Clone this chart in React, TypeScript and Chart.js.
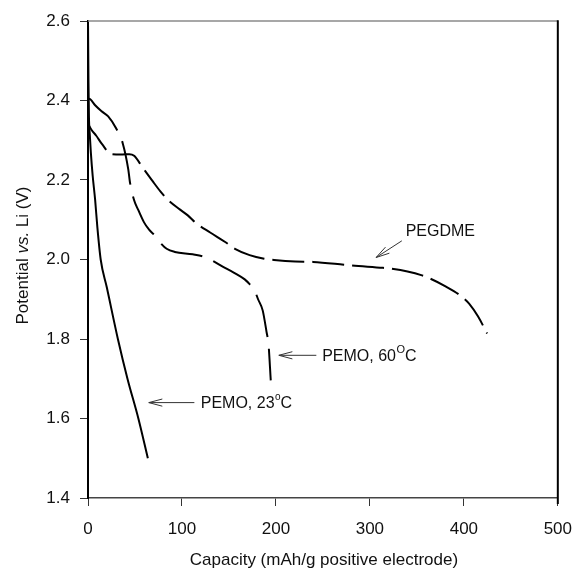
import React, { useEffect, useRef } from 'react';
import { Chart, registerables } from 'chart.js';

Chart.register(...registerables);

// ---- Data ----
const pemo23X = [0, 0.5, 1, 2, 3, 5, 7.6, 10, 13.5, 20, 31.8, 42, 53.6, 63.7];
const pemo23Y = [2.6, 2.45, 2.36, 2.31, 2.27, 2.21, 2.15, 2.08, 2.0, 1.93, 1.8, 1.7, 1.6, 1.5];

const pemo60X = [0, 2.4, 7.6, 15, 21.5, 29.4, 37, 42.9, 44.6, 49.1, 53.6, 59.5, 65, 70.9, 77, 83.7, 92.4, 111.4, 124.6, 144.3, 156, 166.8, 172, 177.2, 181, 185.9, 190, 192.1, 194.5];
const pemo60Y = [2.405, 2.403, 2.388, 2.372, 2.36, 2.332, 2.292, 2.226, 2.195, 2.149, 2.124, 2.094, 2.075, 2.061, 2.042, 2.027, 2.019, 2.013, 2.006, 1.981, 1.966, 1.95, 1.938, 1.923, 1.9, 1.872, 1.818, 1.787, 1.696];

const pegdmeX = [0, 4, 8.6, 15, 24.9, 35.3, 43.9, 49.1, 58, 68.8, 76.8, 85.5, 97.6, 106.2, 114.8, 130, 146, 156.4, 172, 187.5, 197.9, 220.5, 239.5, 272.4, 281, 313.9, 322.5, 340, 355.5, 364.1, 380, 397, 405.6, 415, 424.7];
const pegdmeY = [2.342, 2.325, 2.312, 2.29, 2.265, 2.264, 2.265, 2.261, 2.232, 2.197, 2.172, 2.149, 2.126, 2.111, 2.092, 2.068, 2.044, 2.027, 2.011, 2.002, 1.999, 1.995, 1.994, 1.987, 1.985, 1.979, 1.977, 1.97, 1.96, 1.952, 1.933, 1.908, 1.889, 1.857, 1.814];

const xTicks = [0, 100, 200, 300, 400, 500];
const yTicks = [1.4, 1.6, 1.8, 2.0, 2.2, 2.4, 2.6];

const xTitle = 'Capacity (mAh/g positive electrode)';
const yTitleParts: [string, boolean][] = [['Potential ', false], ['vs.', true], [' Li (V)', false]];

// Labels with arrows (data coordinates)
const annLabels: [string, boolean][][] = [
  [['PEGDME', false]],
  [['PEMO, 60', false], ['O', true], ['C', false]],
  [['PEMO, 23', false], ['o', true], ['C', false]],
];
const annTextX = [338.1, 249.2, 120];
const annTextY = [2.069, 1.755, 1.637];
const annTailX = [334, 243, 113.2];
const annTailY = [2.047, 1.759, 1.64];
const annHeadX = [306.6, 203.1, 64.7];
const annHeadY = [2.005, 1.759, 1.64];

const FONT = '"Liberation Sans", Arial, Helvetica, sans-serif';

function toPts(xs: number[], ys: number[]) {
  return xs.map((x, i) => ({ x, y: ys[i] }));
}

const decorPlugin = {
  id: 'decor',
  afterDatasetsDraw(chart: any) {
    const ctx = chart.ctx as CanvasRenderingContext2D;
    const { left, right, top, bottom } = chart.chartArea;
    const xs = chart.scales.x;
    const ys = chart.scales.y;
    ctx.save();
    // top and right frame
    ctx.lineCap = 'butt';
    ctx.strokeStyle = '#8a8a8a';
    ctx.lineWidth = 1.5;
    ctx.beginPath();
    ctx.moveTo(left, top);
    ctx.lineTo(right, top);
    ctx.stroke();
    ctx.strokeStyle = '#000';
    ctx.lineWidth = 2;
    ctx.beginPath();
    ctx.moveTo(right, top - 0.75);
    ctx.lineTo(right, bottom + 6);
    ctx.stroke();

    // annotations
    for (let i = 0; i < annLabels.length; i++) {
      const tx = xs.getPixelForValue(annTailX[i]);
      const ty = ys.getPixelForValue(annTailY[i]);
      const hx = xs.getPixelForValue(annHeadX[i]);
      const hy = ys.getPixelForValue(annHeadY[i]);
      ctx.strokeStyle = '#333';
      ctx.lineWidth = 1;
      ctx.beginPath();
      ctx.moveTo(tx, ty);
      ctx.lineTo(hx, hy);
      const ang = Math.atan2(ty - hy, tx - hx);
      const L = 14;
      const a = 0.26;
      ctx.moveTo(hx + L * Math.cos(ang + a), hy + L * Math.sin(ang + a));
      ctx.lineTo(hx, hy);
      ctx.lineTo(hx + L * Math.cos(ang - a), hy + L * Math.sin(ang - a));
      ctx.stroke();

      let px = xs.getPixelForValue(annTextX[i]);
      const py = ys.getPixelForValue(annTextY[i]);
      ctx.fillStyle = '#111';
      ctx.textBaseline = 'middle';
      ctx.textAlign = 'left';
      for (const [t, sup] of annLabels[i]) {
        if (sup) {
          ctx.font = `${t === 'O' ? 11 : 10}px ${FONT}`;
          ctx.fillText(t, px + 0.5, py - 7);
          px += ctx.measureText(t).width + 0.5;
        } else {
          ctx.font = `16px ${FONT}`;
          ctx.fillText(t, px, py);
          px += ctx.measureText(t).width;
        }
      }
    }

    // axis titles
    ctx.fillStyle = '#111';
    ctx.textBaseline = 'middle';
    ctx.textAlign = 'center';
    ctx.font = `17px ${FONT}`;
    ctx.fillText(xTitle, (left + right) / 2 + 1, 560);

    // y title (rotated, with italic part)
    ctx.translate(23, (top + bottom) / 2 - 4);
    ctx.rotate(-Math.PI / 2);
    let total = 0;
    const widths: number[] = [];
    for (const [t, it] of yTitleParts) {
      ctx.font = `${it ? 'italic ' : ''}17px ${FONT}`;
      const w = ctx.measureText(t).width;
      widths.push(w);
      total += w;
    }
    let cx = -total / 2;
    ctx.textAlign = 'left';
    yTitleParts.forEach(([t, it], k) => {
      ctx.font = `${it ? 'italic ' : ''}17px ${FONT}`;
      ctx.fillText(t, cx, 0);
      cx += widths[k];
    });
    ctx.restore();
  },
};

export default function App() {
  const ref = useRef<HTMLCanvasElement | null>(null);
  useEffect(() => {
    if (!ref.current) return;
    const common = {
      showLine: true,
      pointRadius: 0,
      borderColor: '#000',
      backgroundColor: '#000',
      fill: false,
      cubicInterpolationMode: 'monotone',
    };
    const chart = new Chart(ref.current, {
      type: 'scatter',
      data: {
        datasets: [
          { ...common, label: 'PEMO, 23°C', data: toPts(pemo23X, pemo23Y), borderWidth: 2 },
          { ...common, label: 'PEMO, 60°C', data: toPts(pemo60X, pemo60Y), borderWidth: 2, borderDash: [44, 12] },
          { ...common, label: 'PEGDME', data: toPts(pegdmeX, pegdmeY), borderWidth: 2, borderDash: [32, 8] },
        ],
      },
      options: {
        animation: false,
        responsive: false,
        events: [],
        layout: { padding: { left: 0, top: 21, right: 16, bottom: 0 } },
        plugins: { legend: { display: false }, tooltip: { enabled: false } },
        scales: {
          x: {
            type: 'linear',
            min: 0,
            max: 500,
            afterBuildTicks: (s: any) => {
              s.ticks = xTicks.map((v) => ({ value: v }));
            },
            afterFit: (s: any) => {
              s.height = 72;
            },
            grid: { drawOnChartArea: false, drawTicks: true, tickLength: 8, color: '#333', lineWidth: 1 },
            border: { display: true, color: '#444', width: 1.5 },
            ticks: {
              padding: 13,
              color: '#111',
              font: { family: FONT, size: 17 },
              maxRotation: 0,
              callback: (v: any) => String(v),
            },
          },
          y: {
            type: 'linear',
            min: 1.4,
            max: 2.6,
            afterBuildTicks: (s: any) => {
              s.ticks = yTicks.map((v) => ({ value: v }));
            },
            afterFit: (s: any) => {
              s.width = 88;
            },
            grid: { drawOnChartArea: false, drawTicks: true, tickLength: 8, color: '#333', lineWidth: 1 },
            border: { display: true, color: '#000', width: 2 },
            ticks: {
              padding: 10,
              color: '#111',
              font: { family: FONT, size: 17 },
              callback: (v: any) => Number(v).toFixed(1),
            },
          },
        },
      },
      plugins: [decorPlugin],
    } as any);
    return () => chart.destroy();
  }, []);
  return (
    <div style={{ position: 'absolute', left: 0, top: 0, width: 585, height: 570, background: '#fff' }}>
      <canvas ref={ref} width={585} height={570} style={{ display: 'block', width: 585, height: 570 }} />
    </div>
  );
}
